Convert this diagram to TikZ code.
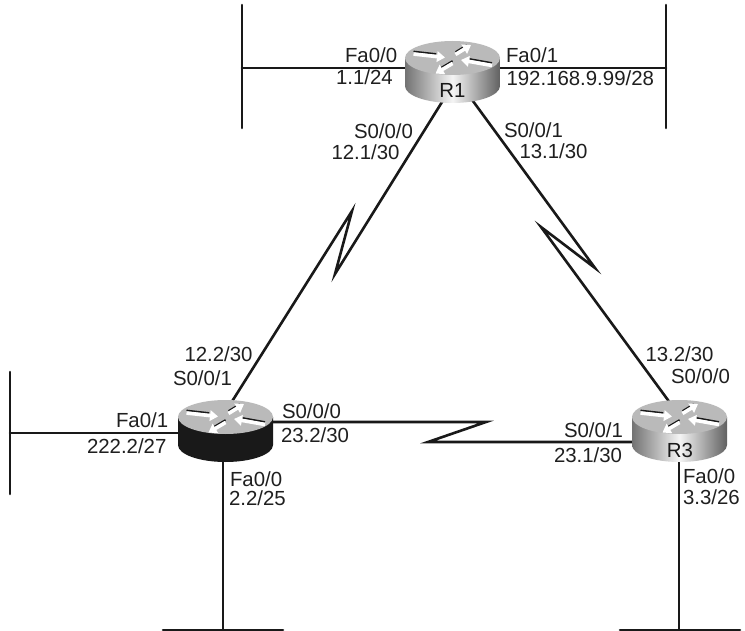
\documentclass[tikz,border=0pt]{standalone}
\usepackage{fontspec}
\setmainfont{Liberation Sans}
\usetikzlibrary{arrows.meta,calc}
\tikzset{
  wire/.style={draw=black!90,line width=2.6pt,line cap=round,line join=miter},
  lbl/.style={anchor=base west,inner sep=0pt,outer sep=0pt,font=\fontsize{20.4}{20.4}\selectfont,text=black!88},
  rtr/.style={minimum width=95pt,minimum height=62pt,inner sep=0pt,outer sep=0pt},
  rname/.style={inner sep=0pt,font=\fontsize{20.4}{20.4}\selectfont,text=black!90},
  silver/.style={left color=black!55,right color=black!62,middle color=black!4},
  blackside/.style={fill=black!90},
}
\newcommand{\rtrarrow}[2]{%
  \draw[black!90,line width=1.6pt,shift={(0,-2.6)}] #1 -- ($#1!0.72!#2$);
  \draw[white,line width=3.6pt,-{Triangle[width=10.5pt,length=8pt]}] #1 -- #2;
}
\newcommand{\routerbody}[2]{%
  \begin{scope}[shift={(#1.center)}]
    \begin{scope}[shift={(0,-14.5)}]
      \path[#2] (-47.5,0) -- (-47.5,28) arc[start angle=180,end angle=0,x radius=47.5,y radius=17] -- (47.5,0) -- cycle;
      \fill[black!27] (0,0) ellipse[x radius=47.5,y radius=17];
      \rtrarrow{(-39,-4)}{(-7.5,-0.5)}
      \rtrarrow{(3,-3.5)}{(18.5,-13)}
      \rtrarrow{(39.5,7.5)}{(8.5,2)}
      \rtrarrow{(0,5.5)}{(-17,15.5)}
    \end{scope}
  \end{scope}
}
\begin{document}
\begin{tikzpicture}[x=1pt,y=-1pt]
\useasboundingbox (0,0) rectangle (745,631);
\fill[white] (0,0) rectangle (745,631);
% router anchors
\node[rtr] (R1) at (452.5,72.5) {};
\node[rtr] (R2) at (225.5,431.5) {};
\node[rtr] (R3) at (679.5,431.5) {};
% free ends
\coordinate (bar1a) at (242,5);   \coordinate (bar1b) at (242,128);
\coordinate (bar2a) at (666,5);   \coordinate (bar2b) at (666,128);
\coordinate (bar3a) at (10,372);  \coordinate (bar3b) at (10,494);
\coordinate (bar4a) at (163,630); \coordinate (bar4b) at (283,630);
\coordinate (bar5a) at (620,630); \coordinate (bar5b) at (740,630);
\draw[wire] (bar1a) -- (bar1b);
\draw[wire] (bar2a) -- (bar2b);
\draw[wire] (bar3a) -- (bar3b);
\draw[wire] (bar4a) -- (bar4b);
\draw[wire] (bar5a) -- (bar5b);
% LAN links
\draw[wire] (242,68) -- ([shift={(0,-4.5)}]R1.center);
\draw[wire] (666,68) -- ([shift={(0,-4.5)}]R1.center);
\draw[wire] (10,433) -- ([shift={(0,1.5)}]R2.center);
\draw[wire] (223,630) -- ([shift={(-2.5,0)}]R2.center);
\draw[wire] (679,630) -- ([shift={(-0.5,0)}]R3.center);
% serial links
\draw[wire] ([shift={(-5.5,21.5)}]R1.center) -- (335,274) -- (352,211) -- ([shift={(0.5,-20.5)}]R2.center);
\draw[wire] ([shift={(17.5,24.5)}]R1.center) -- (595,268) -- (541,227) -- ([shift={(-3.5,-20.5)}]R3.center);
\draw[wire] ([shift={(0,-9.5)}]R2.center) -- (486,422) -- (428,442) -- ([shift={(0,10.5)}]R3.center);
% routers
\routerbody{R1}{silver}
\routerbody{R2}{blackside}
\routerbody{R3}{silver}
\node[rname] (R1t) at (452.5,90) {R1};
\node[rname] (R3t) at (680,450) {R3};
% labels
\node[lbl] (l1) at (345,63) {Fa0/0};
\node[lbl] (l2) at (336,85) {1.1/24};
\node[lbl] (l3) at (506,63) {Fa0/1};
\node[lbl] (l4) at (506.5,86) {192.168.9.99/28};
\node[lbl] (l5) at (354,139) {S0/0/0};
\node[lbl] (l6) at (331.5,160) {12.1/30};
\node[lbl] (l7) at (504,138) {S0/0/1};
\node[lbl] (l8) at (519.5,159) {13.1/30};
\node[lbl] (l9) at (184.5,362) {12.2/30};
\node[lbl] (l10) at (173,385) {S0/0/1};
\node[lbl] (l11) at (645.5,362) {13.2/30};
\node[lbl] (l12) at (671,384) {S0/0/0};
\node[lbl] (l13) at (282,418) {S0/0/0};
\node[lbl] (l14) at (281,442) {23.2/30};
\node[lbl] (l15) at (116,427) {Fa0/1};
\node[lbl] (l16) at (87,453) {222.2/27};
\node[lbl] (l17) at (230,486) {Fa0/0};
\node[lbl] (l18) at (229,505) {2.2/25};
\node[lbl] (l19) at (564,437) {S0/0/1};
\node[lbl] (l20) at (554,462) {23.1/30};
\node[lbl] (l21) at (683,483) {Fa0/0};
\node[lbl] (l22) at (683,504) {3.3/26};
\end{tikzpicture}
\end{document}
